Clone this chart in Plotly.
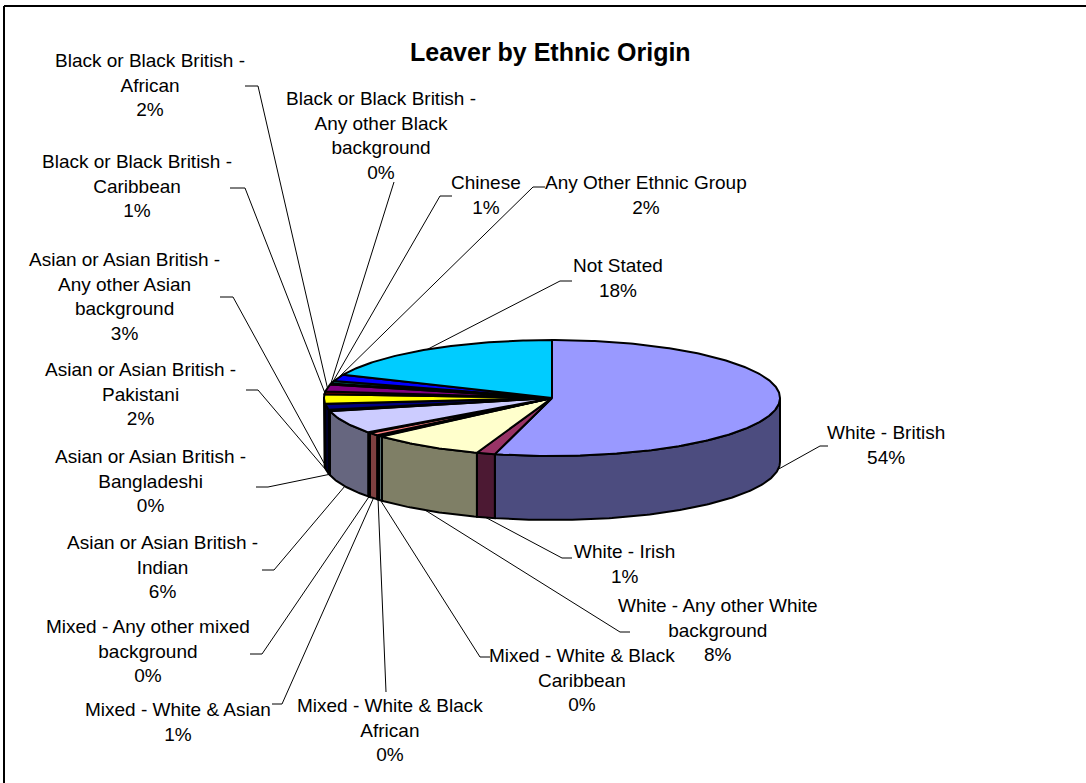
import numpy as np
import plotly.graph_objects as go

# Slices, clockwise from 12 o'clock
categories = [
    "White - British",
    "White - Irish",
    "White - Any other White background",
    "Mixed - White & Black Caribbean",
    "Mixed - White & Black African",
    "Mixed - White & Asian",
    "Mixed - Any other mixed background",
    "Asian or Asian British - Indian",
    "Asian or Asian British - Bangladeshi",
    "Asian or Asian British - Pakistani",
    "Asian or Asian British - Any other Asian background",
    "Black or Black British - Caribbean",
    "Black or Black British - African",
    "Black or Black British - Any other Black background",
    "Chinese",
    "Any Other Ethnic Group",
    "Not Stated",
]
leavers = [536, 13, 80, 3, 2, 8, 2, 64, 4, 16, 26, 8, 19, 3, 7, 18, 183]
slice_colors = [
    "#9999FF", "#993366", "#FFFFCC", "#CCFFFF", "#660066", "#FF8080",
    "#0066CC", "#CCCCFF", "#333399", "#000080", "#FFFF00", "#800000",
    "#800080", "#003333", "#008080", "#0000FF", "#00CCFF",
]
# Wrapped label text (category line breaks)
label_text = [
    "White - British",
    "White - Irish",
    "White - Any other White<br>background",
    "Mixed - White & Black<br>Caribbean",
    "Mixed - White & Black<br>African",
    "Mixed - White & Asian",
    "Mixed - Any other mixed<br>background",
    "Asian or Asian British -<br>Indian",
    "Asian or Asian British -<br>Bangladeshi",
    "Asian or Asian British -<br>Pakistani",
    "Asian or Asian British -<br>Any other Asian<br>background",
    "Black or Black British -<br>Caribbean",
    "Black or Black British -<br>African",
    "Black or Black British -<br>Any other Black<br>background",
    "Chinese",
    "Any Other Ethnic Group",
    "Not Stated",
]

# Layout of the drawing (pixel-like coordinates, y grows downward)
W, H = 1086, 783
CX, CY, RX, RY, DEPTH = 552, 398, 228, 58, 64
FONT = "Liberation Sans, Arial, sans-serif"

# Label centres and the start of each leader line
label_pos = [
    (886, 445), (624, 564), (718, 630), (582, 680), (390, 730), (178, 722),
    (148, 651), (162, 567), (150, 481), (140, 394), (124, 296), (137, 186),
    (150, 85), (381, 135), (486, 195), (646, 195), (618, 278),
]
leader_start = [
    [(828, 446), (820, 446)], [(572, 558), (562, 558)], [(630, 632), (620, 632)],
    [(490, 657), (480, 657)], [(386, 692)], [(272, 704), (282, 704)],
    [(250, 654), (262, 654)], [(262, 570), (274, 570)], [(256, 487), (268, 487)],
    [(246, 390), (258, 390)], [(220, 297), (233, 297)], [(230, 188), (245, 188)],
    [(245, 86), (258, 86)], [(394, 182)], [(452, 196), (440, 196)],
    [(545, 187), (533, 187)], [(572, 281), (560, 281)],
]


def ellipse(theta, dy=0.0):
    return CX + RX * np.sin(theta), CY - RY * np.cos(theta) + dy


def darker(hex_color, f=0.5):
    h = hex_color.lstrip("#")
    r, g, b = (int(h[i:i + 2], 16) for i in (0, 2, 4))
    return "rgb(%d,%d,%d)" % (r * f, g * f, b * f)


total = float(sum(leavers))
fracs = np.array(leavers) / total
ends = np.cumsum(fracs)
starts = ends - fracs

fig = go.Figure()
outline = dict(color="black", width=2)

# Outer walls of the front half
for s, e, col in zip(starts, ends, slice_colors):
    a0, a1 = 2 * np.pi * s, 2 * np.pi * e
    lo, hi = max(a0, np.pi / 2), min(a1, 3 * np.pi / 2)
    if hi <= lo:
        continue
    t = np.linspace(lo, hi, max(4, int((hi - lo) * 80)))
    xt, yt = ellipse(t)
    xb, yb = ellipse(t[::-1], DEPTH)
    fig.add_trace(go.Scatter(
        x=np.concatenate([xt, xb, xt[:1]]), y=np.concatenate([yt, yb, yt[:1]]),
        mode="lines", fill="toself", fillcolor=darker(col), line=outline,
        hoverinfo="skip", showlegend=False))

# Top faces
for s, e, col, name, v in zip(starts, ends, slice_colors, categories, leavers):
    a0, a1 = 2 * np.pi * s, 2 * np.pi * e
    t = np.linspace(a0, a1, max(3, int((a1 - a0) * 80)))
    xa, ya = ellipse(t)
    fig.add_trace(go.Scatter(
        x=np.concatenate([[CX], xa, [CX]]), y=np.concatenate([[CY], ya, [CY]]),
        mode="lines", fill="toself", fillcolor=col, line=outline,
        name=name, hovertemplate=f"{name}: {v}<extra></extra>", showlegend=False))

# Leader lines and data labels
for i, (s, e) in enumerate(zip(starts, ends)):
    mid = np.pi * (s + e)
    px, py = ellipse(mid, DEPTH if np.cos(mid) < 0 else 0.0)
    pts = leader_start[i] + [(px, py)]
    fig.add_trace(go.Scatter(
        x=[p[0] for p in pts], y=[p[1] for p in pts], mode="lines",
        line=dict(color="black", width=1), hoverinfo="skip", showlegend=False))
    pct = int(100 * leavers[i] / total + 0.5)
    lx, ly = label_pos[i]
    fig.add_annotation(
        x=lx, y=ly, xref="x", yref="y", text=f"{label_text[i]}<br>{pct}%",
        showarrow=False, xanchor="center", yanchor="middle", align="center",
        font=dict(family=FONT, size=19, color="black"))

fig.add_annotation(
    x=550, y=52, xref="x", yref="y", text="<b>Leaver by Ethnic Origin</b>",
    showarrow=False, xanchor="center", yanchor="middle",
    font=dict(family=FONT, size=25, color="black"))

# Chart frame
fig.add_shape(type="line", x0=4, y0=6, x1=W, y1=6, xref="x", yref="y",
              line=dict(color="black", width=2))
fig.add_shape(type="line", x0=4, y0=6, x1=4, y1=H, xref="x", yref="y",
              line=dict(color="black", width=2))

fig.update_layout(
    width=W, height=H, margin=dict(l=0, r=0, t=0, b=0),
    paper_bgcolor="white", plot_bgcolor="white",
    xaxis=dict(range=[0, W], visible=False, fixedrange=True),
    yaxis=dict(range=[H, 0], visible=False, fixedrange=True),
)

fig.write_html("out.html")
